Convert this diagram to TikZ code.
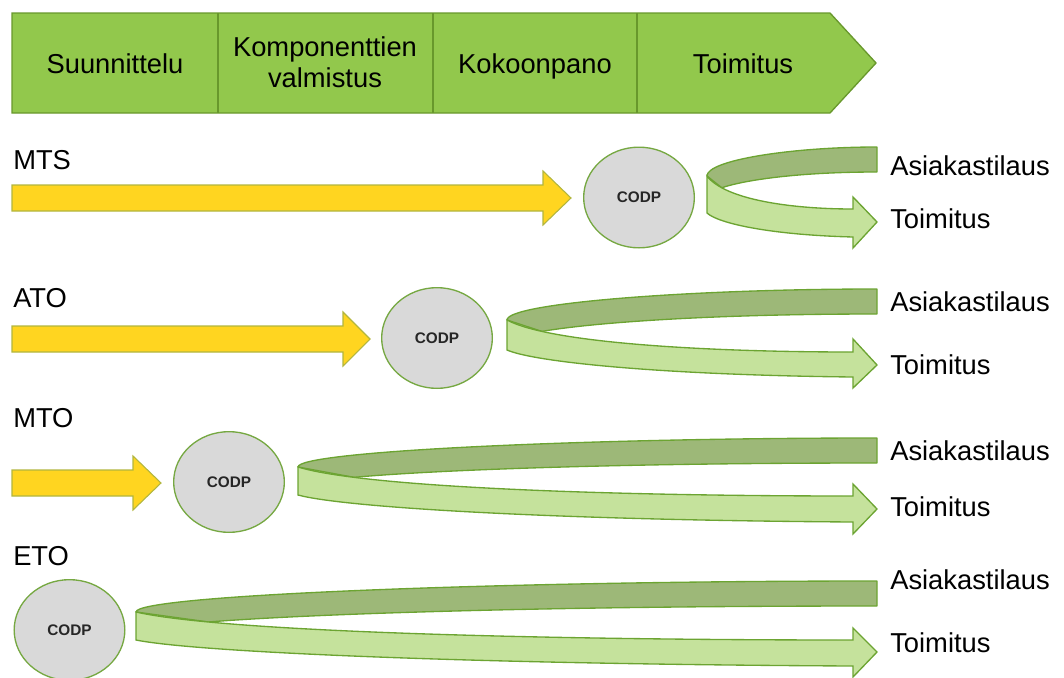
\documentclass[tikz,border=0pt]{standalone}
\usepackage{fontspec}
\setmainfont{Liberation Sans}
\usetikzlibrary{shapes.geometric}

\definecolor{phasefill}{RGB}{146,200,76}
\definecolor{phaseline}{RGB}{104,152,44}
\definecolor{backband}{RGB}{157,184,120}
\definecolor{frontband}{RGB}{197,226,156}
\definecolor{bandline}{RGB}{108,164,50}
\definecolor{flowfill}{RGB}{255,213,32}
\definecolor{flowline}{RGB}{178,182,62}
\definecolor{codpfill}{RGB}{217,217,217}
\definecolor{codpline}{RGB}{118,168,66}

% U-turn ribbon: #1 left x, #2 top of back band at the right end,
% #3/#4 top/bottom of the left edge, #5/#6 top/bottom of the front shaft,
% #7/#8 top/bottom of the head, #9 tip y
\newcommand\drawuturn[9]{%
  \pgfmathsetmacro\uw{853-#1}%
  \pgfmathsetmacro\ox{#1+0.5*(877-#1)}%
  \pgfmathsetmacro\oy{#2+0.45*(#3-#2)}%
  \pgfmathsetmacro\tax{#1+0.12*\uw}%
  \pgfmathsetmacro\tay{#3+0.7*(#5-#3)}%
  \pgfmathsetmacro\tbx{#1+0.56*\uw}%
  \pgfmathsetmacro\bax{#1+0.08*\uw}%
  \pgfmathsetmacro\bay{#4+0.45*(#6-#4)}%
  \pgfmathsetmacro\bbx{#1+0.45*\uw}%
  \pgfmathsetmacro\bby{#6-2}%
  \pgfmathsetmacro\fx{0.531441*#1+0.373977*\tax+0.087723*\tbx+0.006859*853}%
  \pgfmathsetmacro\fy{0.531441*#3+0.373977*\tay+0.094582*#5}%
  \pgfmathsetmacro\kk{0.5*(877-\fx)}%
  \pgfmathsetmacro\mm{0.15*(877-\fx)}%
  \pgfmathsetmacro\nn{0.5*(\fy-#2-25)}%
  % back side of the ribbon
  \draw[backside] (877,#2) .. controls (\ox,#2) and (#1,\oy) .. (#1,#3)
     -- (\fx,\fy) .. controls +(\mm,-\nn) and +(-\kk,0) .. (877,#2+25) -- cycle;
  % front side with the arrow head
  \draw[frontside] (#1,#3) .. controls (\tax,\tay) and (\tbx,#5) .. (853,#5)
     -- (853,#7) -- (877,#9) -- (853,#8) -- (853,#6)
     .. controls (\bbx,\bby) and (\bax,\bay) .. (#1,#4) -- cycle;
}

% straight feed arrow: #1 centre y, #2 head base x, #3 tip x
\newcommand\drawfeed[3]{%
  \draw[feed] (12,#1-13) -- (#2,#1-13) -- (#2,#1-27) -- (#3,#1)
     -- (#2,#1+27) -- (#2,#1+13) -- (12,#1+13) -- cycle;
}

\begin{document}
\begin{tikzpicture}[x=0.75pt,y=-0.75pt,
  phase/.style={draw=phaseline,fill=phasefill,line width=1pt,line join=miter},
  divider/.style={draw=phaseline,line width=0.8pt},
  phasetext/.style={font=\fontsize{20.5}{23.3}\selectfont,text=black,inner sep=0pt},
  backside/.style={draw=bandline,fill=backband,line width=1pt,line join=round},
  frontside/.style={draw=bandline,fill=frontband,line width=1pt,line join=miter},
  feed/.style={draw=flowline,fill=flowfill,line width=0.8pt,line join=miter},
  codp/.style={ellipse,draw=codpline,fill=codpfill,line width=1pt,inner sep=0pt,
    minimum width=83pt,minimum height=75.5pt,
    font=\fontsize{11.5}{13}\selectfont\bfseries,text=black!85},
  label/.style={font=\fontsize{20.5}{23.3}\selectfont,text=black,inner sep=0pt,anchor=base west}]
\useasboundingbox (0,0) rectangle (1064,678);

% process phases
\draw[phase] (12,13) -- (830,13) -- (876,63) -- (830,113) -- (12,113) -- cycle;
\draw[divider] (218,13) -- (218,113);
\draw[divider] (433,13) -- (433,113);
\draw[divider] (637,13) -- (637,113);
\node[phasetext,anchor=base] (p1) at (115,73) {Suunnittelu};
\node[phasetext,align=center] (p2) at (325,62.5) {Komponenttien\\valmistus};
\node[phasetext,anchor=base] (p3) at (535,73) {Kokoonpano};
\node[phasetext,anchor=base] (p4) at (743,73) {Toimitus};

% MTS
\node[label] (mts) at (13,169) {MTS};
\drawfeed{198}{543}{571}
\node[codp] (codpmts) at (639,197.5) {CODP};
\drawuturn{707}{147}{176}{213}{209}{237}{197}{248}{222}
\node[label] (mtsorder) at (890,175.5) {Asiakastilaus};
\node[label] (mtsdel) at (890,228.5) {Toimitus};

% ATO
\node[label] (ato) at (13,307) {ATO};
\drawfeed{339}{343}{370}
\node[codp] (codpato) at (437,338) {CODP};
\drawuturn{507}{289}{320}{350}{352}{377}{339}{388}{365}
\node[label] (atoorder) at (890,311.5) {Asiakastilaus};
\node[label] (atodel) at (890,374.5) {Toimitus};

% MTO
\node[label] (mto) at (13,427) {MTO};
\drawfeed{483}{133}{161}
\node[codp] (codpmto) at (229,482) {CODP};
\drawuturn{298}{438}{467}{495}{496}{522}{484}{534}{509}
\node[label] (mtoorder) at (890,460.5) {Asiakastilaus};
\node[label] (mtodel) at (890,516.5) {Toimitus};

% ETO
\node[label] (eto) at (13,565) {ETO};
\node[codp] (codpeto) at (69.5,630) {CODP};
\drawuturn{136}{581}{612}{640}{640}{666}{628}{677}{652}
\node[label] (etoorder) at (890,589) {Asiakastilaus};
\node[label] (etodel) at (890,652) {Toimitus};
\end{tikzpicture}
\end{document}
